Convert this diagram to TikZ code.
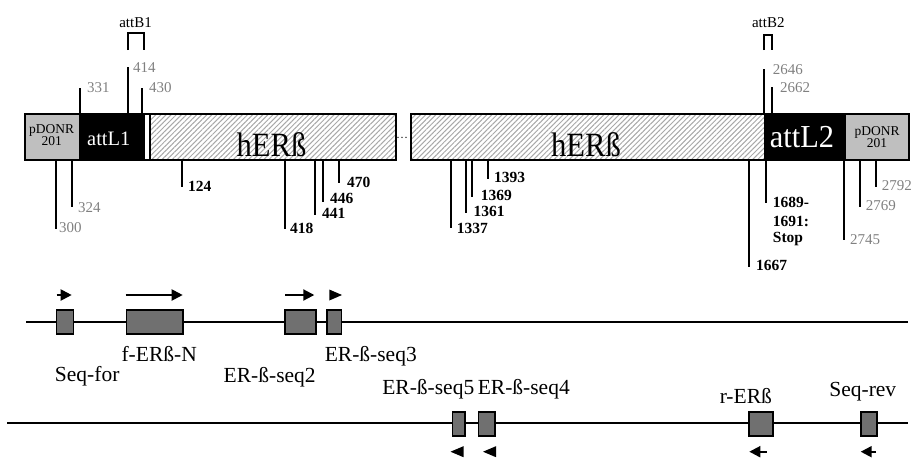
\documentclass[tikz,border=0pt]{standalone}
\usepackage{fontspec}
\setmainfont{Liberation Serif}
\usetikzlibrary{patterns.meta,arrows.meta}
\definecolor{numgray}{gray}{0.5}
\definecolor{pdgray}{gray}{0.75}
\definecolor{boxgray}{gray}{0.44}
\definecolor{hatchgray}{gray}{0.66}
\newcommand{\fsz}[1]{\fontsize{#1}{#1}\selectfont}
\begin{document}
\begin{tikzpicture}[x=1pt,y=-1pt,
  tk/.style={line width=2.2pt},
  gnum/.style={anchor=base west,inner sep=0pt,text=numgray,font=\fsz{15}},
  bnum/.style={anchor=base west,inner sep=0pt,font=\fsz{15.5}\bfseries},
  seg/.style={draw=black,line width=2pt,inner sep=0pt,anchor=north west,minimum height=46pt},
  hatch/.style={pattern={Lines[angle=45,distance=3.6pt,line width=1pt]},pattern color=hatchgray},
  pbox/.style={draw=black,fill=boxgray,line width=1.6pt,inner sep=0pt,minimum height=24pt,anchor=north west},
  plbl/.style={anchor=base,inner sep=0pt,font=\fsz{21.5}},
  parr/.style={line width=2pt,-{Triangle[length=11pt,width=11pt]}},
  tri/.style={fill=black},
  bline/.style={line width=1.7pt},
  ]
\useasboundingbox (0,0) rectangle (915,459);

% ---- bar 1
\node[seg,fill=pdgray,minimum width=55.3pt] (pd1) at (24,113) {};
\node[seg,fill=black,minimum width=63.4pt] (al1) at (79.3,113) {};
\node[seg,fill=white,minimum width=6.6pt] (ws1) at (142.7,113) {};
\node[seg,hatch,minimum width=245.7pt] (h1) at (149.3,113) {};
% ---- bar 2
\node[seg,hatch,minimum width=354.3pt] (h2) at (410,113) {};
\node[seg,fill=black,minimum width=80pt] (al2) at (764.3,113) {};
\node[seg,fill=pdgray,minimum width=63.4pt] (pd2) at (844.3,113) {};

% dots
\foreach \x in {398,402,406} \fill (\x,137.3) circle (0.7pt);

% bar texts
\node[anchor=base,inner sep=0pt,font=\fsz{13.5}] (pd1a) at (51.7,133) {pDONR};
\node[anchor=base,inner sep=0pt,font=\fsz{13.5}] (pd1b) at (51.7,145) {201};
\node[anchor=base,inner sep=0pt,font=\fsz{20.5},text=white] (al1t) at (108.8,145) {attL1};
\node[anchor=base,inner sep=0pt,font=\fsz{34}] (h1t) at (271.5,156) {\scalebox{0.9}[1]{hERß}};
\node[anchor=base,inner sep=0pt,font=\fsz{34}] (h2t) at (586,156) {\scalebox{0.9}[1]{hERß}};
\node[anchor=base,inner sep=0pt,font=\fsz{32},text=white] (al2t) at (802,147) {\scalebox{0.95}[1]{attL2}};
\node[anchor=base,inner sep=0pt,font=\fsz{13.5}] (pd2a) at (877,135) {pDONR};
\node[anchor=base,inner sep=0pt,font=\fsz{13.5}] (pd2b) at (877,147) {201};

% attB brackets
\node[anchor=center,inner sep=0pt,font=\fsz{15}] (attb1) at (135.5,23) {attB1};
\draw[tk] (128,50) -- (128,33.3) -- (144,33.3) -- (144,50);
\node[anchor=center,inner sep=0pt,font=\fsz{15}] (attb2) at (768.3,23) {attB2};
\draw[tk] (764,50) -- (764,35) -- (772.3,35) -- (772.3,50);

% gray ticks
\foreach \x/\ya/\yb/\lx/\ly/\t [count=\i] in {
  80/88/113/87/92/331, 128/67/113/133/72/414, 142.3/88/113/149/92/430,
  764.3/69.3/113/772.7/74/2646, 771.7/87.3/113/780/92/2662,
  56/159/229/59/232/300, 72/159/207/78/212/324,
  844/159/240/850/244/2745, 860/159/206.7/865.7/210/2769, 875.7/159/186.7/881.7/190/2792}
{
  \coordinate (ga\i) at (\x,\ya);
  \coordinate (gb\i) at (\x,\yb);
  \draw[tk] (ga\i) -- (gb\i);
  \node[gnum] (gl\i) at (\lx,\ly) {\t};
}
% bold ticks
\foreach \x/\yb/\lx/\ly/\t [count=\i] in {
  181.7/187/188/191/124, 285/229/290/233/418, 315/215/322/218/441,
  323.3/202/330/203/446, 339/183/347/187/470,
  450.7/228/456.7/233/1337, 465.7/213/473.3/216.7/1361, 472.3/197/480.7/200.5/1369,
  488/179.3/494/182.5/1393, 749/266.7/756/270/1667, 765.7/203/772.7/207/1689-}
{
  \coordinate (ba\i) at (\x,159);
  \coordinate (bb\i) at (\x,\yb);
  \draw[tk] (ba\i) -- (bb\i);
  \node[bnum] (bl\i) at (\lx,\ly) {\t};
}
\node[bnum] (stop1) at (772.7,226) {1691:};
\node[bnum] (stop2) at (772.7,242) {Stop};

% ---- primer line 1
\coordinate (l1s) at (26,321.7);
\coordinate (l1e) at (908,321.7);
\draw[bline] (l1s) -- (l1e);
\node[pbox,minimum width=17pt] (p1) at (55.7,309.3) {};
\node[pbox,minimum width=56.3pt] (p2) at (125.7,309.3) {};
\node[pbox,minimum width=30.7pt] (p3) at (284.3,309.3) {};
\node[pbox,minimum width=14.7pt] (p4) at (326,309.3) {};
\coordinate (a1s) at (56.7,295); \coordinate (a1e) at (71.7,295);
\coordinate (a2s) at (125.7,295); \coordinate (a2e) at (182.7,295);
\coordinate (a3s) at (285,295); \coordinate (a3e) at (314.3,295);
\draw[parr] (a1s) -- (a1e);
\draw[parr] (a2s) -- (a2e);
\draw[parr] (a3s) -- (a3e);
\fill[tri] (329.3,289.5) -- (342,295) -- (329.3,300.5) -- cycle;
\node[plbl] (t1) at (87.2,381) {Seq-for};
\node[plbl] (t2) at (159.2,361.7) {f-ERß-N};
\node[plbl] (t3) at (269.7,382.5) {ER-ß-seq2};
\node[plbl] (t4) at (370.8,361.7) {ER-ß-seq3};

% ---- primer line 2
\coordinate (l2s) at (7.3,423.3);
\coordinate (l2e) at (908.3,423.3);
\draw[bline] (l2s) -- (l2e);
\node[pbox,minimum width=12.6pt] (q1) at (451.7,411) {};
\node[pbox,minimum width=16.3pt] (q2) at (477.7,411) {};
\node[pbox,minimum width=24pt] (q3) at (748.3,411) {};
\node[pbox,minimum width=16pt] (q4) at (860,411) {};
\fill[tri] (463.5,446.2) -- (450.5,451.7) -- (463.5,457.2) -- cycle;
\fill[tri] (496,446.2) -- (483,451.7) -- (496,457.2) -- cycle;
\coordinate (b3s) at (766.7,451.7); \coordinate (b3e) at (749.3,451.7);
\coordinate (b4s) at (876,451.7); \coordinate (b4e) at (860.7,451.7);
\draw[parr] (b3s) -- (b3e);
\draw[parr] (b4s) -- (b4e);
\node[plbl] (u1) at (428.3,394) {ER-ß-seq5};
\node[plbl] (u2) at (523.8,394) {ER-ß-seq4};
\node[plbl] (u3) at (745.8,403) {r-ERß};
\node[plbl] (u4) at (862.8,396) {Seq-rev};
\end{tikzpicture}
\end{document}
